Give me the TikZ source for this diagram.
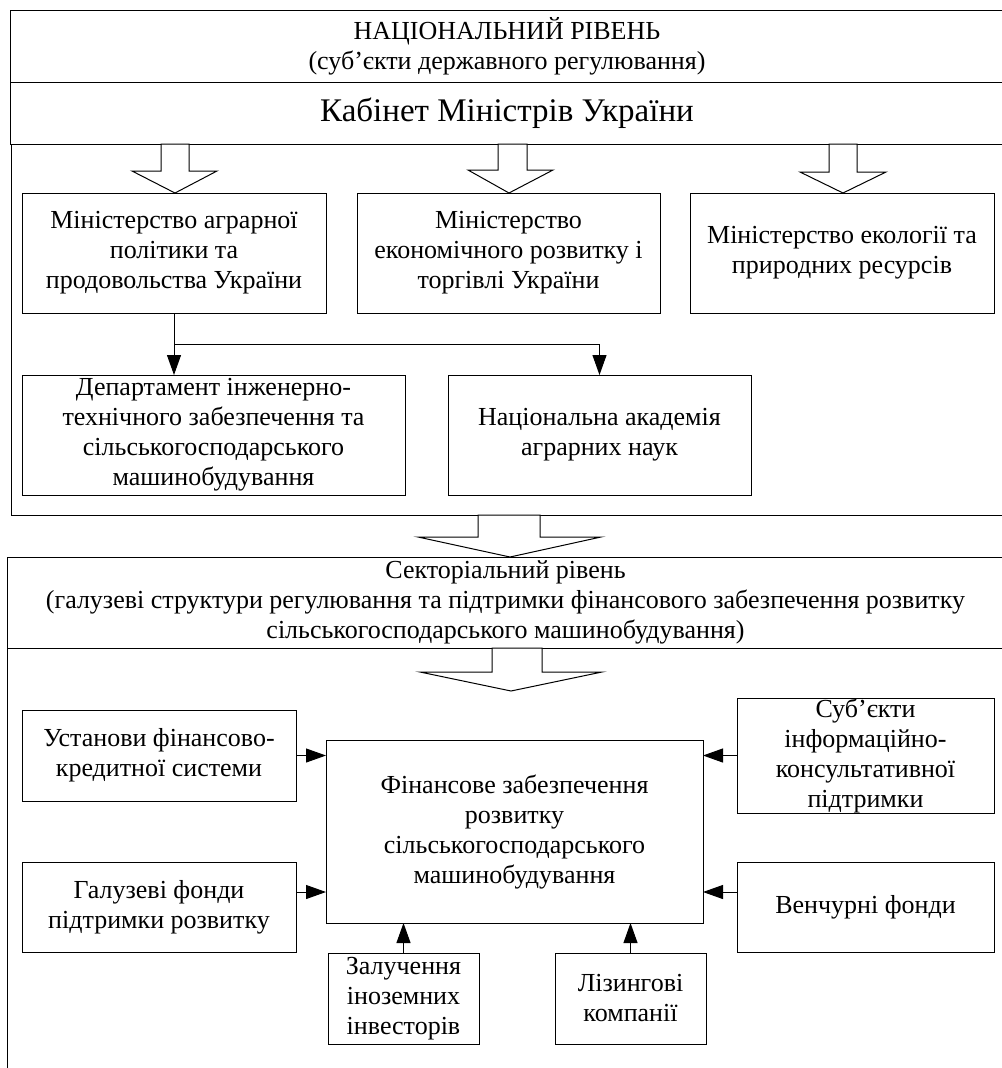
\documentclass[tikz,border=0pt]{standalone}
\usepackage{fontspec}
\setmainfont{Liberation Serif}
\usetikzlibrary{arrows.meta,calc}
% \bxnode[style]{name}{x1}{y1}{x2}{y2}{text}
\newcommand\bxnode[7][box]{\node[#1, minimum width={(#5-#3)*0.75pt}, minimum height={(#6-#4)*0.75pt}] (#2) at ({(#3+#5)/2},{(#4+#6)/2}) {#7};}
\newcommand\blockarr[8]{\draw[blk] (#1,#6) -- (#1,#7) -- (#3,#7) -- (#5,#8) -- (#4,#7) -- (#2,#7) -- (#2,#6) -- cycle;}
\tikzset{
  box/.style={draw, inner sep=0pt, outer sep=0pt, align=center, anchor=center, font=\fontsize{19.5}{22.5}\selectfont},
  bigtext/.style={box, font=\fontsize{24.75}{28}\selectfont},
  blk/.style={draw, fill=white, line join=miter},
  arr/.style={draw, -{Triangle[length=15pt,width=10.5pt]}},
}
\begin{document}
\begin{tikzpicture}[x=0.75pt, y=-0.75pt, line width=0.75pt]
\useasboundingbox (0,0) rectangle (1002,1068);
\fill[white] (0,0) rectangle (1002,1068);
\clip (0,0) rectangle (1002,1068);

% national level frames
\bxnode{nat}{10}{10}{1004}{82}{НАЦІОНАЛЬНИЙ РІВЕНЬ\\(суб’єкти державного регулювання)}
\bxnode[bigtext]{kmu}{10}{82}{1004}{144}{Кабінет Міністрів України}
\bxnode{natbody}{11}{144}{1004}{515}{}

% sector level frames
\bxnode{sec}{7}{557}{1004}{648}{Секторіальний рівень\\(галузеві структури регулювання та підтримки фінансового забезпечення розвитку\\сільськогосподарського машинобудування)}
\bxnode{secbody}{7}{648}{1004}{1080}{}

% block arrows
\blockarr{161}{189}{132}{217}{175}{144}{171}{193}
\blockarr{498}{527}{468}{553}{509}{144}{170}{193}
\blockarr{829}{857}{800}{886}{843}{144}{172}{193}
\blockarr{478}{540}{418}{601}{510}{515}{537}{557}
\blockarr{492}{542}{420}{602}{511}{648}{672}{691}

% national boxes
\bxnode{b1}{22}{193}{326}{313}{Міністерство аграрної\\політики та\\продовольства України}
\bxnode{b2}{357}{193}{660}{313}{Міністерство\\економічного розвитку і\\торгівлі України}
\bxnode{b3}{690}{193}{994}{313}{Міністерство екології та\\природних ресурсів}
\bxnode{b4}{22}{375}{405}{495}{Департамент інженерно-\\технічного забезпечення та\\сільськогосподарського\\машинобудування}
\bxnode{b5}{448}{375}{751}{495}{Національна академія\\аграрних наук}

\coordinate (j) at ($(b1.south)!0.5!(b1.south |- b4.north)$);
\draw[arr] (b1.south) -- (b1.south |- b4.north);
\draw[arr] (j) -| (b5.north);

% sector boxes
\bxnode{cen}{326}{740}{703}{923}{Фінансове забезпечення\\розвитку\\сільськогосподарського\\машинобудування}
\bxnode{inst}{22}{710}{296}{801}{Установи фінансово-\\кредитної системи}
\bxnode{galuz}{22}{862}{296}{952}{Галузеві фонди\\підтримки розвитку}
\bxnode{subj}{737}{698}{994}{813}{Суб’єкти\\інформаційно-\\консультативної\\підтримки}
\bxnode{vench}{737}{862}{994}{952}{Венчурні фонди}
\bxnode{zal}{328}{953}{479}{1044}{Залучення\\іноземних\\інвесторів}
\bxnode{liz}{555}{953}{706}{1044}{Лізингові\\компанії}

\coordinate (g1) at ([yshift=11.25pt]galuz.east);
\coordinate (v1) at ([yshift=11.25pt]vench.west);
\draw[arr] (inst.east) -- (inst.east -| cen.west);
\draw[arr] (g1) -- (g1 -| cen.west);
\draw[arr] (subj.west) -- (subj.west -| cen.east);
\draw[arr] (v1) -- (v1 -| cen.east);
\draw[arr] (zal.north) -- (zal.north |- cen.south);
\draw[arr] (liz.north) -- (liz.north |- cen.south);
\end{tikzpicture}
\end{document}
